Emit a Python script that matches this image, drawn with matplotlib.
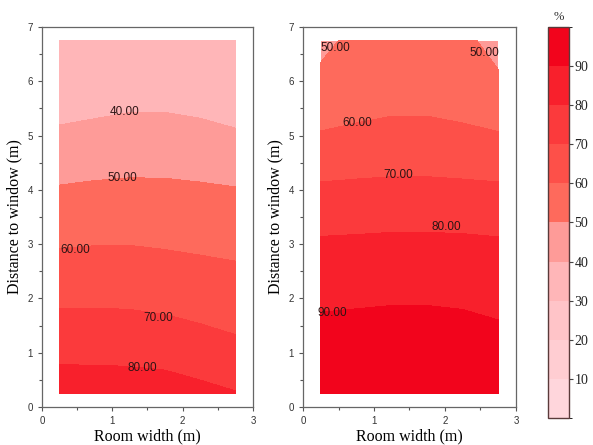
import numpy as np
import matplotlib
matplotlib.use("Agg")
import matplotlib.pyplot as plt
from matplotlib.colors import ListedColormap, BoundaryNorm
from matplotlib.ticker import MultipleLocator

# grid of measurement points (m)
room_x = [0.25, 0.75, 1.25, 1.75, 2.25, 2.75]
window_y = [0.25, 1.0, 2.0, 3.0, 4.0, 5.0, 6.0, 6.75]

# left case, rows = window_y, cols = room_x (%)
case_a = [
    [85.2, 85.0, 84.9, 84.4, 82.6, 80.5],
    [77.8, 77.8, 77.5, 76.7, 74.7, 72.6],
    [68.2, 68.3, 68.1, 67.2, 65.9, 64.8],
    [59.3, 59.75, 59.8, 59.2, 58.5, 57.8],
    [50.8, 51.5, 51.8, 51.7, 51.2, 50.5],
    [41.7, 42.7, 43.7, 43.7, 42.8, 41.1],
    [33.0, 34.0, 35.0, 35.0, 34.0, 33.0],
    [30.0, 31.0, 32.0, 32.0, 31.0, 30.0],
]

# right case
case_b = [
    [97.0, 97.5, 98.0, 98.0, 97.5, 96.0],
    [95.0, 95.5, 96.0, 96.0, 95.5, 93.8],
    [88.3, 88.7, 89.1, 89.1, 88.6, 87.5],
    [81.4, 81.7, 82.1, 82.1, 81.9, 81.3],
    [71.6, 72.1, 72.4, 72.4, 72.1, 71.6],
    [60.6, 61.5, 62.5, 62.5, 61.5, 60.6],
    [53.5, 55.0, 55.5, 55.5, 55.0, 52.5],
    [46.0, 54.0, 55.0, 55.0, 54.0, 44.0],
]

levels = [0, 10, 20, 30, 40, 50, 60, 70, 80, 90, 100]
cbar_ticks = [10, 20, 30, 40, 50, 60, 70, 80, 90]

# contour labels (value, x, y)
labels_a = [(40, 1.17, 5.43), (50, 1.14, 4.22), (60, 0.48, 2.89),
            (70, 1.65, 1.64), (80, 1.42, 0.72)]
labels_b = [(50, 0.45, 6.61), (50, 2.55, 6.52), (60, 0.76, 5.24),
            (70, 1.34, 4.27), (80, 2.02, 3.31), (90, 0.41, 1.73)]

colors = ['#ffd6dc', '#ffcdd2', '#ffc4c8', '#ffb6b8', '#fe9b98',
          '#fe6a5c', '#fd5049', '#fb3a3c', '#f8202c', '#f2041c']
cmap = ListedColormap(colors)
norm = BoundaryNorm(levels, cmap.N)

fig = plt.figure(figsize=(5.93, 4.45), dpi=100)
ax1 = fig.add_axes([0.0708, 0.0854, 0.3558, 0.854])
ax2 = fig.add_axes([0.511, 0.0854, 0.359, 0.854])
cax = fig.add_axes([0.924, 0.0607, 0.0354, 0.879])

X, Y = np.meshgrid(room_x, window_y)

for ax, data, labs in [(ax1, case_a, labels_a), (ax2, case_b, labels_b)]:
    cs = ax.contourf(X, Y, np.array(data), levels=levels, cmap=cmap, norm=norm)
    for v, lx, ly in labs:
        ax.text(lx, ly, "%.2f" % v, ha='center', va='center', fontsize=8.5,
                color='#2e1414', family='Liberation Sans')
    ax.set_xlim(0, 3)
    ax.set_ylim(0, 7)
    ax.set_xticks([0, 1, 2, 3])
    ax.set_yticks(range(8))
    ax.xaxis.set_minor_locator(MultipleLocator(0.5))
    ax.yaxis.set_minor_locator(MultipleLocator(0.5))
    ax.tick_params(which='both', direction='out', labelsize=7, colors='#555555',
                   labelcolor='#333333', width=0.8)
    ax.tick_params(which='major', length=3)
    ax.tick_params(which='minor', length=2)
    for lab in ax.get_xticklabels() + ax.get_yticklabels():
        lab.set_family('Liberation Sans')
    for s in ax.spines.values():
        s.set_color('#666666')
        s.set_linewidth(0.9)
    ax.set_xlabel('Room width (m)', family='Liberation Serif', fontsize=11.5,
                  labelpad=2)
    ax.set_ylabel('Distance to window (m)', family='Liberation Serif',
                  fontsize=11.5, labelpad=4)

cb = fig.colorbar(cs, cax=cax, ticks=cbar_ticks)
cb.outline.set_edgecolor('#5a3a3a')
cb.outline.set_linewidth(1.0)
cax.tick_params(labelsize=10, length=3, width=0.8, colors='#444444',
                labelcolor='#222222', pad=1)
for lab in cax.get_yticklabels():
    lab.set_family('Liberation Serif')
cax.set_title('%', family='Liberation Serif', fontsize=9, pad=5, color='#333333')

fig.savefig('out.png', dpi=100)
